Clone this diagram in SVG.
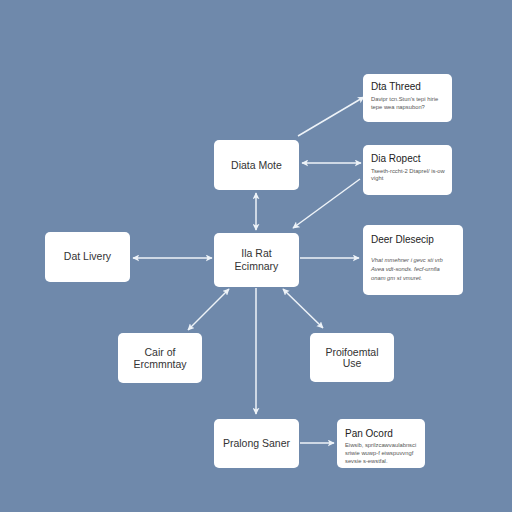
<svg xmlns="http://www.w3.org/2000/svg" width="512" height="512" viewBox="0 0 512 512">
<defs>
<marker id="ah" viewBox="0 0 10 10" refX="9" refY="5" markerWidth="7" markerHeight="7" orient="auto-start-reverse" markerUnits="userSpaceOnUse">
<path d="M0,0 L10,5 L0,10 L2.5,5 Z" fill="#eef3f8"/>
</marker>
<style>
.box{fill:#ffffff;stroke:none}
.lbl{font-family:"Liberation Sans",Arial,sans-serif;font-size:10.5px;fill:#333;text-anchor:middle}
.ttl{font-family:"Liberation Sans",Arial,sans-serif;font-size:10px;fill:#222}
.sm{font-family:"Liberation Sans",Arial,sans-serif;font-size:5.8px;fill:#555}
.c{stroke:#eef3f8;stroke-width:1.5;fill:none}
</style>
</defs>
<rect width="512" height="512" fill="#6f89ab"/>
<g id="connectors">
<line class="c" x1="298" y1="136" x2="364" y2="97" marker-end="url(#ah)"/>
<line class="c" x1="302" y1="163" x2="361" y2="163" marker-start="url(#ah)" marker-end="url(#ah)"/>
<line class="c" x1="360" y1="179" x2="293" y2="228" marker-end="url(#ah)"/>
<line class="c" x1="256" y1="193" x2="256" y2="230" marker-start="url(#ah)" marker-end="url(#ah)"/>
<line class="c" x1="133" y1="258" x2="212" y2="258" marker-start="url(#ah)" marker-end="url(#ah)"/>
<line class="c" x1="300" y1="258" x2="359" y2="258" marker-end="url(#ah)"/>
<line class="c" x1="229" y1="289" x2="188" y2="330" marker-start="url(#ah)" marker-end="url(#ah)"/>
<line class="c" x1="283" y1="289" x2="323" y2="328" marker-start="url(#ah)" marker-end="url(#ah)"/>
<line class="c" x1="256" y1="288" x2="256" y2="414" marker-end="url(#ah)"/>
<line class="c" x1="300" y1="443" x2="334" y2="443" marker-end="url(#ah)"/>
</g>
<g id="data-more">
<rect class="box" x="214" y="140" width="85" height="50" rx="5"/>
<text class="lbl" x="256.5" y="169">Diata Mote</text>
</g>
<g id="center">
<rect class="box" x="214" y="233" width="85" height="54" rx="5"/>
<text class="lbl" x="256.5" y="257">Ila Rat</text>
<text class="lbl" x="256.5" y="270">Ecimnary</text>
</g>
<g id="dat-livery">
<rect class="box" x="45" y="232" width="85" height="50" rx="5"/>
<text class="lbl" x="87.5" y="260">Dat Livery</text>
</g>
<g id="cost">
<rect class="box" x="118" y="333" width="84" height="50" rx="5"/>
<text class="lbl" x="160" y="356">Cair of</text>
<text class="lbl" x="160" y="368">Ercmmntay</text>
</g>
<g id="professional">
<rect class="box" x="310" y="333" width="84" height="49" rx="5"/>
<text class="lbl" x="352" y="356">Proifoemtal</text>
<text class="lbl" x="352" y="367">Use</text>
</g>
<g id="prelong">
<rect class="box" x="214" y="419" width="85" height="49" rx="5"/>
<text class="lbl" x="256.5" y="447">Pralong Saner</text>
</g>
<g id="pan-ocord">
<rect class="box" x="337" y="419" width="88" height="49" rx="5"/>
<text class="ttl" x="345" y="437">Pan Ocord</text>
<text class="sm" x="345" y="447">Eiwsib, sprilzcawvaulabnsci</text>
<text class="sm" x="345" y="455">sriwie wuwp-f eiwspuvvngf</text>
<text class="sm" x="345" y="463">sevsie s-ewstfal.</text>
</g>
<g id="dta-threed">
<rect class="box" x="363" y="74" width="89" height="48" rx="5"/>
<text class="ttl" x="371" y="90">Dta Threed</text>
<text class="sm" x="371" y="101">Davipr tcn.Stun's tepi hirie</text>
<text class="sm" x="371" y="109">tepe wea napsubon?</text>
</g>
<g id="dia-ropect">
<rect class="box" x="363" y="145" width="89" height="50" rx="5"/>
<text class="ttl" x="371" y="162">Dia Ropect</text>
<text class="sm" x="371" y="173">Tseeth-rccht-2 Dtaprel/ is-ow</text>
<text class="sm" x="371" y="180">vight</text>
</g>
<g id="deer-dlesecip">
<rect class="box" x="363" y="225" width="100" height="70" rx="5"/>
<text class="ttl" x="371" y="243">Deer Dlesecip</text>
<text class="sm" x="371" y="262" font-style="italic">Vhat mmehner i gevc sti vrb</text>
<text class="sm" x="371" y="271" font-style="italic">Avea vdt-sonds. fecf-urnfia</text>
<text class="sm" x="371" y="280" font-style="italic">onam gm st vmuret.</text>
</g>
</svg>
